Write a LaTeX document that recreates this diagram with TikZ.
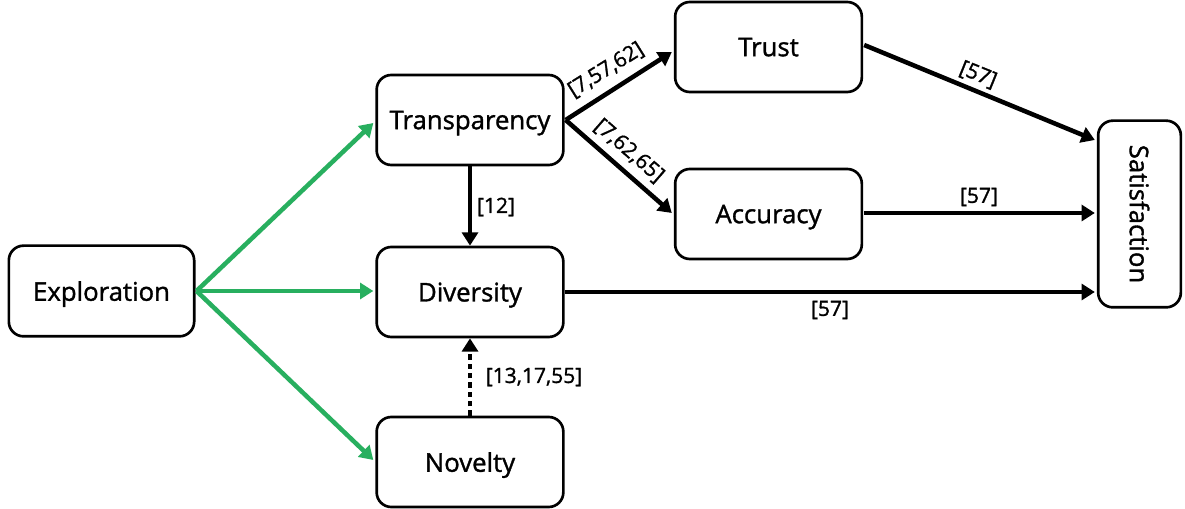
\documentclass[tikz,border=0pt]{standalone}
\usepackage{fontspec}
\setmainfont[FakeBold=1.3]{Open Sans}
\usetikzlibrary{arrows.meta,calc}
\definecolor{grn}{RGB}{40,175,95}
\tikzset{
  box/.style={draw=black,line width=2pt,rounded corners=11pt,fill=white,
    minimum width=140pt,minimum height=67.5pt,inner sep=0pt,text depth=0pt,
    font=\fontsize{19.3}{22}\selectfont},
  conn/.style={line width=3.4pt,-{Triangle[length=10pt,width=12pt]}},
  gconn/.style={conn,draw=grn,-{Triangle[length=10pt,width=12pt,fill=grn]}},
  lbl/.style={font=\fontsize{15.8}{18}\selectfont,inner sep=0pt}
}
\begin{document}
\begin{tikzpicture}[x=0.75pt,y=-0.75pt]
\useasboundingbox (0,0) rectangle (1185,509);
\node[box,minimum width=139pt,minimum height=68pt] (expl) at (101.5,291) {Exploration};
\node[box] (trans) at (470,120) {Transparency};
\node[box] (div) at (470,292) {Diversity};
\node[box] (nov) at (470,462) {Novelty};
\node[box] (trust) at (768.5,47) {Trust};
\node[box] (acc) at (768.5,214) {Accuracy};
\node[box,minimum width=62pt,minimum height=140pt,text depth=] (sat) at (1139.5,214)
  {\rotatebox{-90}{Satisfaction}};
\coordinate (g0) at ($(expl.east)+(1,0)$);
\draw[gconn] (g0) -- ($(trans.west)+(-2,3)$);
\draw[gconn] (g0) -- ($(div.west)+(-2,-1)$);
\draw[gconn] (g0) -- ($(nov.west)+(-2,-2)$);
\draw[conn] (trans.south) -- (div.north);
\node[lbl] (l12) at (496,207) {[12]};
\draw[conn,dash pattern=on 4pt off 3pt] (nov.north) -- (div.south);
\node[lbl] (l131755) at (534,377) {[13,17,55]};
\coordinate (t0) at ($(trans.east)+(1,0)$);
\draw[conn] (t0) -- ($(trust.west)+(-2,5)$);
\node[lbl,rotate=32] (l75762) at (606,70) {[7,57,62]};
\draw[conn] (t0) -- ($(acc.west)+(-2,-1)$);
\node[lbl,rotate=-41] (l76265) at (629,151) {[7,62,65]};
\draw[conn] ($(trust.east)+(1,-2)$) -- ($(sat.west)+(-2,-74)$);
\node[lbl,rotate=-22] (l57a) at (978,75) {[57]};
\draw[conn] ($(acc.east)+(1,-1)$) -- ($(sat.west)+(-2,-1)$);
\node[lbl] (l57b) at (979,197) {[57]};
\draw[conn] (div.east) -- ($(sat.west)+(-2,78)$);
\node[lbl] (l57c) at (830,310) {[57]};
\end{tikzpicture}
\end{document}
